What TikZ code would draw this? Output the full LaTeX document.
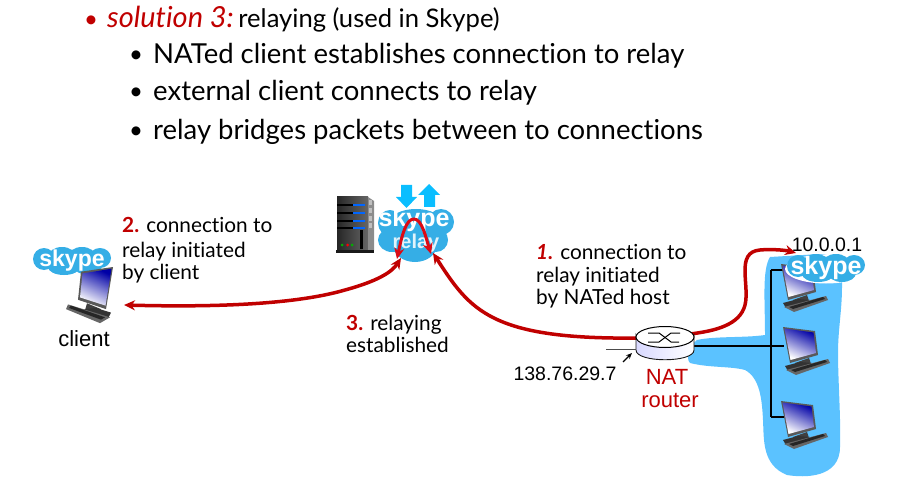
\documentclass[tikz,border=0pt]{standalone}
\usepackage{fontspec}
\setmainfont{Lato}[Ligatures=NoCommon]
\newfontfamily\arialf{Liberation Sans}
\usetikzlibrary{arrows.meta}
\definecolor{nred}{HTML}{C00000}
\definecolor{brightred}{HTML}{DC0A14}
\definecolor{netblue}{HTML}{5BC2FF}
\definecolor{skypeblue}{HTML}{35AEE6}
\definecolor{arrowblue}{HTML}{0ABEFF}
\tikzset{
  slide/.style={anchor=base west,inner sep=0pt,font=\fontsize{27.5}{30}\selectfont},
  bul/.style={anchor=base west,inner sep=0pt,font=\fontsize{24}{30}\selectfont},
  lab/.style={anchor=base west,inner sep=0pt,font=\fontsize{20.8}{24}\selectfont},
  ari/.style={inner sep=0pt,font=\arialf\fontsize{19.5}{22}\selectfont},
  redline/.style={draw=nred,line width=3.5pt},
  bothtips/.style={{Stealth[length=11pt,width=10pt]}-{Stealth[length=11pt,width=10pt]}},
  endtip/.style={-{Stealth[length=11pt,width=10pt]}},
  starttip/.style={{Stealth[length=11pt,width=10pt]}-},
  wire/.style={draw=black,line width=1.3pt},
  pics/computer/.style={code={
    \fill[black!65] (1,0) -- (33,4) -- (36,28) -- (8,36) -- cycle;
    \shade[top color=blue!65!black,bottom color=white,shading angle=-25] (2.5,1.5) -- (31.5,5.5) -- (34,26) -- (8.5,33) -- cycle;
    \fill[black!75] (13,36) -- (27,31) -- (29,37) -- (17,41) -- cycle;
    \fill[black!80] (3,39) -- (18,35) -- (30,36) -- (19,43) -- (6,44) -- cycle;
    \fill[black!60] (4,43) -- (46,32) -- (48,36) -- (14,48) -- cycle;
    \fill[black!85] (9,43) -- (43,33) -- (45,35) -- (13,45) -- cycle;
  }},
  pics/skypecloud/.style={code={
    \fill[white] (0,1) ellipse[x radius=41,y radius=14.5];
    \fill[skypeblue] (-28,-2) ellipse[x radius=11,y radius=11];
    \fill[skypeblue] (-10,-4) ellipse[x radius=14,y radius=10];
    \fill[skypeblue] (10,-4) ellipse[x radius=14,y radius=10];
    \fill[skypeblue] (28,-3) ellipse[x radius=11,y radius=10];
    \fill[skypeblue] (-8,6) ellipse[x radius=16,y radius=8];
    \fill[skypeblue] (16,5) ellipse[x radius=14,y radius=9];
    \fill[skypeblue] (0,0) ellipse[x radius=33,y radius=9];
  }},
}
\begin{document}
\begin{tikzpicture}[x=1pt,y=-1pt]
\useasboundingbox (0,0) rectangle (899,497);
% named connector ends
\coordinate (clientend) at (124,305);
\coordinate (relayA) at (401,258);
\coordinate (relayB) at (397,259);
\coordinate (relayC) at (431,254);
\coordinate (relayD) at (433,253);
\coordinate (routerL) at (640,338);
\coordinate (routerR) at (690,334);
\coordinate (hostend) at (796,253);
\coordinate (wireW) at (606,349);
\coordinate (wireR) at (692,346);
\coordinate (busT) at (771,270);
\coordinate (busB) at (771,417);
\coordinate (pcA) at (784,270);
\coordinate (pcB) at (784,346);
\coordinate (pcC) at (784,417);
\coordinate (ipA) at (623,362);
\coordinate (ipB) at (632,353);

% slide text
\node[bul,text=nred] (bul1) at (84,28) {•};
\node[slide] (l1) at (107,28) {\textcolor{nred}{\itshape\fontsize{29}{30}\selectfont solution 3:}\hspace{4.5pt}{\fontsize{25.6}{30}\selectfont relaying (used in Skype)}};
\node[bul] (b2) at (129,63) {•};
\node[slide] (l2) at (153,64) {NATed client establishes connection to relay};
\node[bul] (b3) at (129,100) {•};
\node[slide] (l3) at (153,101) {external client connects to relay};
\node[bul] (b4) at (129,139) {•};
\node[slide] (l4) at (153,140) {relay bridges packets between to connections};

% NATed network
\fill[netblue] (770,257) .. controls (762,270) and (765,300) .. (765,335)
  .. controls (745,338) and (715,336) .. (697,340)
  .. controls (690,345) and (685,358) .. (690,363)
  .. controls (710,368) and (730,366) .. (745,370)
  .. controls (760,378) and (762,400) .. (763,420)
  .. controls (764,440) and (762,465) .. (787,475)
  .. controls (805,478) and (840,478) .. (840,447)
  .. controls (841,420) and (838,380) .. (838,353)
  .. controls (838,330) and (842,310) .. (842,287)
  .. controls (843,270) and (840,255) .. (820,254)
  -- cycle;
\draw[wire] (wireR) -- (pcB);
\draw[wire] (busT) -- (busB);
\draw[wire] (busT) -- (pcA);
\draw[wire] (busB) -- (pcC);
\pic at (780,264) {computer};
\pic at (782,327) {computer};
\pic at (780,401) {computer};

% client
\begin{scope}[shift={(72,261)},scale=0.88]
\pic {skypecloud};
\node[inner sep=0pt,text=white,font=\arialf\bfseries\fontsize{23}{23}\selectfont] (sk1) at (0,-1) {skype};
\end{scope}
\pic[xscale=-1,yscale=1.17] at (114,267) {computer};

% server
\shade[left color=black!85,right color=black!60] (337,197) rectangle (368,252);
\fill[black!45] (368,197) -- (374,201) -- (374,250) -- (368,252) -- cycle;
\foreach \yy in {204,212,220,227} {
  \fill[black] (337,\yy) rectangle (365,\yy+2);
  \fill[blue!60!cyan] (353,\yy) rectangle (365,\yy+2);
  \fill[black!25] (369,\yy-4) rectangle (372,\yy+1);
}
\fill[green!70!black] (342,245) circle (1.5);
\fill[red] (347.5,245) circle (1.5);
\fill[green!70!black] (352,245) circle (1.5);
\fill[black] (360,230) rectangle (363,249);
\fill[black!90] (336,250) rectangle (374,253);

% relay cloud
\fill[arrowblue] (401,185) -- (412,185) -- (412,197) -- (417,197) -- (406.5,208) -- (396,197) -- (401,197) -- cycle;
\fill[arrowblue] (424,207) -- (435,207) -- (435,195) -- (440,195) -- (429,184) -- (418,195) -- (424,195) -- cycle;
\fill[skypeblue] (390,223) ellipse[x radius=12,y radius=13];
\fill[skypeblue] (416,222) ellipse[x radius=26,y radius=13];
\fill[skypeblue] (441,222) ellipse[x radius=13,y radius=13];
\fill[skypeblue] (392,240) ellipse[x radius=14,y radius=12];
\fill[skypeblue] (415,245) ellipse[x radius=22,y radius=17];
\fill[skypeblue] (436,240) ellipse[x radius=12,y radius=12];
\node[inner sep=0pt,text=white,font=\arialf\bfseries\fontsize{25}{25}\selectfont] (sk2) at (414,220) {skype};
\node[inner sep=0pt,text=white!85!skypeblue,font=\arialf\bfseries\fontsize{20}{20}\selectfont] (rl) at (416,243) {relay};

% right logo
\begin{scope}[shift={(826,268)},scale=1.05]
\pic {skypecloud};
\node[inner sep=0pt,text=white,font=\arialf\bfseries\fontsize{25}{25}\selectfont] (sk3) at (0,0) {skype};
\end{scope}

% red connectors
\draw[redline,bothtips] (clientend) .. controls (200,307) and (290,306) .. (345,290)
   .. controls (378,281) and (392,272) .. (relayA);
\draw[draw=brightred,line width=3pt,bothtips] (relayB) .. controls (402,235) and (406,219) .. (414,219)
   .. controls (422,219) and (426,238) .. (relayC);
\draw[redline,starttip] (relayD) .. controls (470,310) and (490,340) .. (routerL) ;
\draw[redline,endtip] (routerR) .. controls (715,331) and (740,325) .. (745,305)
   .. controls (750,285) and (735,252) .. (760,250)
   .. controls (770,249) and (785,250) .. (hostend);

% router
\draw[black!90,left color=blue!15,right color=white,line width=.9pt]
  (636,336) -- (636,350) .. controls (636,363) and (694,363) .. (694,350) -- (694,336)
  .. controls (694,349) and (636,349) .. (636,336) -- cycle;
\draw[black,fill=white,line width=1pt] (665,337) ellipse[x radius=29,y radius=10.5];
\draw[black,line width=1pt] (648,333) -- (659,333) -- (671,342) -- (679,342);
\draw[black,line width=1pt] (648,342) -- (659,342) -- (671,333) -- (680,333);
\draw[black!70,line width=.8pt] (wireW) -- (636,349);
\draw[black,line width=1.2pt,-{Stealth[length=6pt,width=5pt]}] (ipA) -- (ipB);

% labels
\node[lab] (t2a) at (122,233) {\textcolor{nred}{\bfseries 2.} connection to};
\node[lab] (t2b) at (122,257) {relay initiated};
\node[lab] (t2c) at (122,279) {by client};
\node[lab] (t3a) at (346,330) {\textcolor{nred}{\bfseries 3.} relaying};
\node[lab] (t3b) at (346,352) {established};
\node[lab] (t1a) at (536,259) {\textcolor{nred}{\bfseries\itshape 1.} connection to};
\node[lab] (t1b) at (536,282) {relay initiated};
\node[lab] (t1c) at (536,304) {by NATed host};
\node[ari,font=\arialf\fontsize{22}{24}\selectfont] (client) at (84,339) {client};
\node[ari] (ip) at (565,374) {138.76.29.7};
\node[ari,text=nred,font=\arialf\fontsize{22}{24}\selectfont] (nat) at (667,377) {NAT};
\node[ari,text=nred,font=\arialf\fontsize{22}{24}\selectfont] (rtr) at (670,400) {router};
\node[ari] (addr) at (827,244.5) {10.0.0.1};
\end{tikzpicture}
\end{document}
